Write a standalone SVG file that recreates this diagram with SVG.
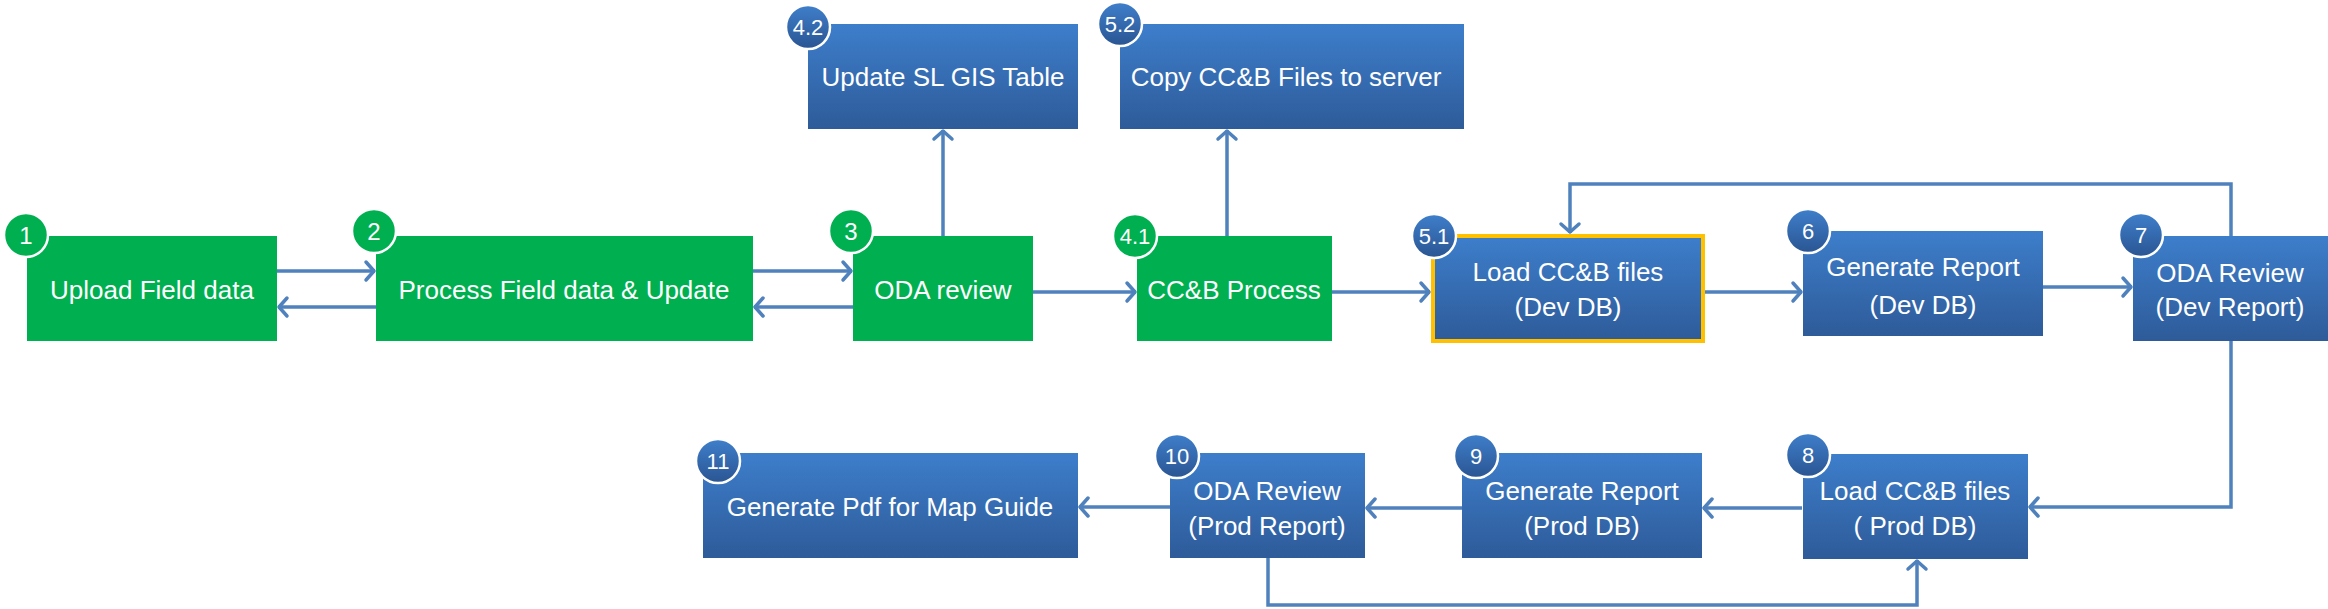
<svg xmlns="http://www.w3.org/2000/svg" width="2328" height="609" viewBox="0 0 2328 609">
<defs>
<linearGradient id="bg" x1="0" y1="0" x2="0" y2="1">
<stop offset="0" stop-color="#3D7ECB"/>
<stop offset="1" stop-color="#2E5B99"/>
</linearGradient>
<linearGradient id="cg" x1="0" y1="0" x2="0" y2="1">
<stop offset="0" stop-color="#3F7FCB"/>
<stop offset="1" stop-color="#2A5592"/>
</linearGradient>
<marker id="ah" markerUnits="userSpaceOnUse" markerWidth="24" markerHeight="24" viewBox="-12 -12 24 24" refX="0" refY="0" orient="auto">
<path d="M-9,-9 L-1,0 L-9,9" fill="none" stroke="#4F81BD" stroke-width="3.5" stroke-linecap="round" stroke-linejoin="round"/>
</marker>
</defs>
<style>
.g{fill:#00B050}
.b{fill:url(#bg)}
.cgc{fill:#00B050;stroke:#fff;stroke-width:2.5}
.cbc{fill:url(#cg);stroke:#fff;stroke-width:2.5}
.t{font-family:"Liberation Sans",Arial,sans-serif;font-size:26px;fill:#fff;text-anchor:middle}
.n{font-family:"Liberation Sans",Arial,sans-serif;font-size:22px;fill:#fff;text-anchor:middle}
.ng{font-family:"Liberation Sans",Arial,sans-serif;font-size:24px;fill:#fff;text-anchor:middle}
.c{fill:none;stroke:#4F81BD;stroke-width:3.5}
</style>
<rect width="2328" height="609" fill="#fff"/>
<g id="connectors">
<line class="c" x1="277" y1="271" x2="375" y2="271" marker-end="url(#ah)"/>
<line class="c" x1="376" y1="307" x2="278" y2="307" marker-end="url(#ah)"/>
<line class="c" x1="753" y1="271" x2="852" y2="271" marker-end="url(#ah)"/>
<line class="c" x1="853" y1="307" x2="754" y2="307" marker-end="url(#ah)"/>
<line class="c" x1="943" y1="236" x2="943" y2="130" marker-end="url(#ah)"/>
<line class="c" x1="1033" y1="292" x2="1136" y2="292" marker-end="url(#ah)"/>
<line class="c" x1="1227" y1="236" x2="1227" y2="130" marker-end="url(#ah)"/>
<line class="c" x1="1332" y1="292" x2="1430" y2="292" marker-end="url(#ah)"/>
<line class="c" x1="1705" y1="292" x2="1802" y2="292" marker-end="url(#ah)"/>
<line class="c" x1="2043" y1="287" x2="2132" y2="287" marker-end="url(#ah)"/>
<path class="c" d="M2231,236 V184 H1570 V233" marker-end="url(#ah)"/>
<path class="c" d="M2231,341 V507 H2029" marker-end="url(#ah)"/>
<line class="c" x1="1802" y1="508" x2="1703" y2="508" marker-end="url(#ah)"/>
<line class="c" x1="1462" y1="508" x2="1366" y2="508" marker-end="url(#ah)"/>
<line class="c" x1="1170" y1="507" x2="1079" y2="507" marker-end="url(#ah)"/>
<path class="c" d="M1268,558 V605 H1917 V560" marker-end="url(#ah)"/>
</g>
<g id="n1">
<rect class="g" x="27" y="236" width="250" height="105"/>
<text class="t" x="152" y="299">Upload Field data</text>
<circle class="cgc" cx="26" cy="235" r="22"/>
<text class="ng" x="26" y="244">1</text>
</g>
<g id="n2">
<rect class="g" x="376" y="236" width="377" height="105"/>
<text class="t" x="564" y="299">Process Field data &amp; Update</text>
<circle class="cgc" cx="374" cy="231" r="22"/>
<text class="ng" x="374" y="240">2</text>
</g>
<g id="n3">
<rect class="g" x="853" y="236" width="180" height="105"/>
<text class="t" x="943" y="299">ODA review</text>
<circle class="cgc" cx="851" cy="231" r="22"/>
<text class="ng" x="851" y="240">3</text>
</g>
<g id="n41">
<rect class="g" x="1137" y="236" width="195" height="105"/>
<text class="t" x="1234" y="299">CC&amp;B Process</text>
<circle class="cgc" cx="1135" cy="236" r="22"/>
<text class="n" x="1135" y="244">4.1</text>
</g>
<g id="n42">
<rect class="b" x="808" y="24" width="270" height="105"/>
<text class="t" x="943" y="86">Update SL GIS Table</text>
<circle class="cbc" cx="808" cy="27" r="22"/>
<text class="n" x="808" y="35">4.2</text>
</g>
<g id="n52">
<rect class="b" x="1120" y="24" width="344" height="105"/>
<text class="t" x="1286" y="86">Copy CC&amp;B Files to server</text>
<circle class="cbc" cx="1120" cy="24" r="22"/>
<text class="n" x="1120" y="32">5.2</text>
</g>
<g id="n51">
<rect class="b" x="1433" y="236" width="270" height="105" stroke="#FFC000" stroke-width="4"/>
<text class="t" x="1568" y="281">Load CC&amp;B files</text>
<text class="t" x="1568" y="316">(Dev DB)</text>
<circle class="cbc" cx="1434" cy="236" r="22"/>
<text class="n" x="1434" y="244">5.1</text>
</g>
<g id="n6">
<rect class="b" x="1803" y="231" width="240" height="105"/>
<text class="t" x="1923" y="276">Generate Report</text>
<text class="t" x="1923" y="314">(Dev DB)</text>
<circle class="cbc" cx="1808" cy="231" r="22"/>
<text class="n" x="1808" y="239">6</text>
</g>
<g id="n7">
<rect class="b" x="2133" y="236" width="195" height="105"/>
<text class="t" x="2230" y="282">ODA Review</text>
<text class="t" x="2230" y="316">(Dev Report)</text>
<circle class="cbc" cx="2141" cy="235" r="22"/>
<text class="n" x="2141" y="243">7</text>
</g>
<g id="n8">
<rect class="b" x="1803" y="454" width="225" height="105"/>
<text class="t" x="1915" y="500">Load CC&amp;B files</text>
<text class="t" x="1915" y="535">( Prod DB)</text>
<circle class="cbc" cx="1808" cy="455" r="22"/>
<text class="n" x="1808" y="463">8</text>
</g>
<g id="n9">
<rect class="b" x="1462" y="453" width="240" height="105"/>
<text class="t" x="1582" y="500">Generate Report</text>
<text class="t" x="1582" y="535">(Prod DB)</text>
<circle class="cbc" cx="1476" cy="456" r="22"/>
<text class="n" x="1476" y="464">9</text>
</g>
<g id="n10">
<rect class="b" x="1170" y="453" width="195" height="105"/>
<text class="t" x="1267" y="500">ODA Review</text>
<text class="t" x="1267" y="535">(Prod Report)</text>
<circle class="cbc" cx="1177" cy="456" r="22"/>
<text class="n" x="1177" y="464">10</text>
</g>
<g id="n11">
<rect class="b" x="703" y="453" width="375" height="105"/>
<text class="t" x="890" y="516">Generate Pdf for Map Guide</text>
<circle class="cbc" cx="718" cy="461" r="22"/>
<text class="n" x="718" y="469">11</text>
</g>
</svg>
